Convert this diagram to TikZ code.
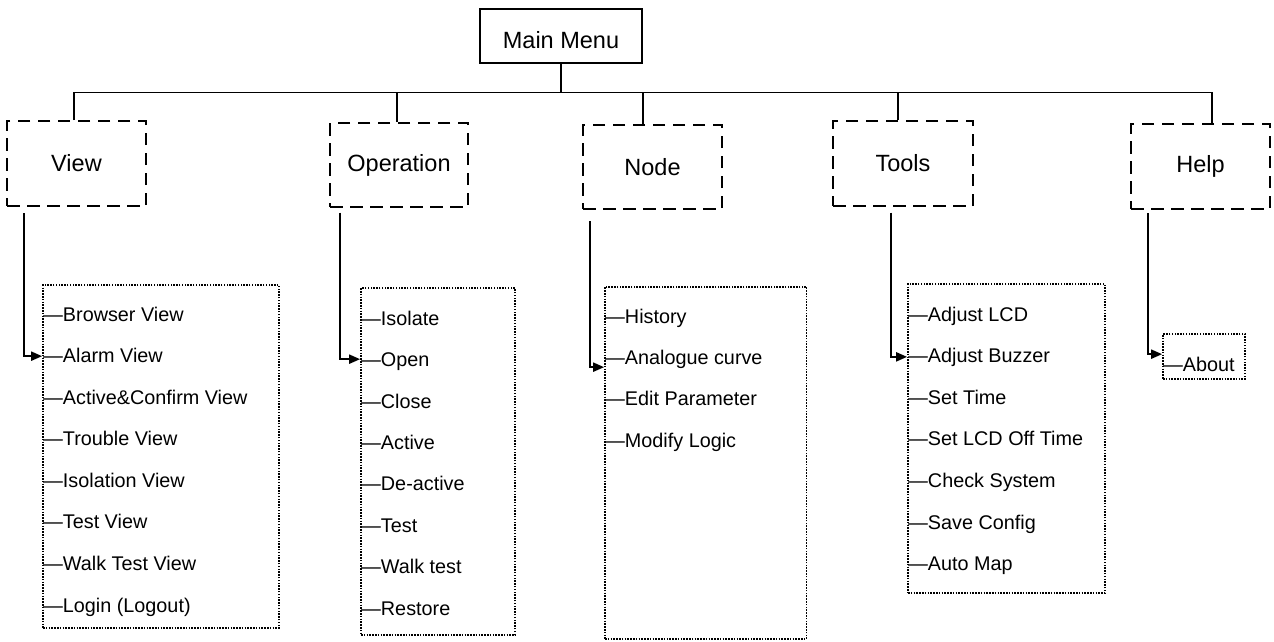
\documentclass[tikz,border=0pt]{standalone}
\usepackage{fontspec}
\setmainfont{Liberation Sans}
\usetikzlibrary{arrows.meta,calc}
\begin{document}
\begin{tikzpicture}[x=1pt,y=-1pt,
  mainbox/.style={draw, line width=2pt, inner sep=0pt, font=\fontsize{23.5}{28}\selectfont},
  menubox/.style={draw, line width=2pt, dash pattern=on 12.5pt off 7.5pt, inner sep=0pt, font=\fontsize{23.5}{28}\selectfont},
  listbox/.style={draw, line width=1.7pt, dash pattern=on 1.5pt off 1.3pt, inner sep=0pt},
  item/.style={anchor=base west, inner xsep=0.8pt, inner ysep=0pt, font=\fontsize{19.8}{24}\selectfont},
  conn/.style={line width=1.6pt},
  arr/.style={line width=2pt, -{Triangle[length=11pt,width=9pt]}},
]
\useasboundingbox (0,0) rectangle (1274,641);

% top level
\node[mainbox, minimum width=162pt, minimum height=54pt, text height=24pt, text depth=0pt] (main) at (561,36) {Main Menu};
\node[menubox, minimum width=139pt, minimum height=85pt] (view) at (76.5,163.5) {View};
\node[menubox, minimum width=138pt, minimum height=84pt] (op) at (399,165) {Operation};
\node[menubox, minimum width=139pt, minimum height=84pt] (nd) at (652.5,167) {Node};
\node[menubox, minimum width=140pt, minimum height=85pt] (tools) at (903,163.5) {Tools};
\node[menubox, minimum width=139pt, minimum height=85pt] (help) at (1200.5,166.5) {Help};

% bus
\coordinate (bus) at ($(main.south)+(0,28.5)$);
\draw[conn] (main.south) -- (bus);
\draw[conn] ([xshift=-2.5pt]view.north) |- (bus) -| ([xshift=11.5pt]help.north);
\draw[conn] ([xshift=-2.3pt]op.north) -- ([xshift=-2.3pt]op.north |- bus);
\draw[conn] ([xshift=-9.5pt]nd.north) -- ([xshift=-9.5pt]nd.north |- bus);
\draw[conn] ([xshift=-5.3pt]tools.north) -- ([xshift=-5.3pt]tools.north |- bus);

% lists
\node[listbox, minimum width=236pt, minimum height=343pt] (viewlist) at (161,456.5) {};
\node[listbox, minimum width=154pt, minimum height=347pt] (oplist) at (438,461.5) {};
\node[listbox, minimum width=201.5pt, minimum height=352.3pt] (ndlist) at (705.75,462.85) {};
\node[listbox, minimum width=197pt, minimum height=309pt] (toolslist) at (1006.5,438.5) {};
\node[listbox, minimum width=82pt, minimum height=45pt] (aboutlist) at (1204,356.5) {};

\foreach \t [count=\i] in {Browser View, Alarm View, Active\&Confirm View, Trouble View, Isolation View, Test View, Walk Test View, Login (Logout)}
  \node[item] (v\i) at ($(viewlist.north west)+(0,37+41.55*\i-41.55)$) {—\t};
\foreach \t [count=\i] in {Isolate, Open, Close, Active, De-active, Test, Walk test, Restore}
  \node[item] (o\i) at ($(oplist.north west)+(0,38+41.45*\i-41.45)$) {—\t};
\foreach \t [count=\i] in {History, Analogue curve, Edit Parameter, Modify Logic}
  \node[item] (n\i) at ($(ndlist.north west)+(0,37.3+41.3*\i-41.3)$) {—\t};
\foreach \t [count=\i] in {Adjust LCD, Adjust Buzzer, Set Time, Set LCD Off Time, Check System, Save Config, Auto Map}
  \node[item] (t\i) at ($(toolslist.north west)+(0,38+41.6*\i-41.6)$) {—\t};
\node[item] (a1) at ($(aboutlist.north west)+(0,38)$) {—About};

% arrows
\coordinate (viewin) at ($(viewlist.north west)+(0,72)$);
\coordinate (opin) at ($(oplist.north west)+(0,72)$);
\coordinate (ndin) at ($(ndlist.north west)+(0,81.3)$);
\coordinate (toolsin) at ($(toolslist.north west)+(0,73.7)$);
\coordinate (aboutin) at ($(aboutlist.north west)+(0,21)$);
\draw[arr] ([shift={(18,6)}]view.south west) |- (viewin);
\draw[arr] ([shift={(10.7,4.7)}]op.south west) |- (opin);
\draw[arr] ([shift={(7.5,11)}]nd.south west) |- (ndin);
\draw[arr] ([shift={(58.7,5.7)}]tools.south west) |- (toolsin);
\draw[arr] ([shift={(17.5,3)}]help.south west) |- (aboutin);
\end{tikzpicture}
\end{document}
